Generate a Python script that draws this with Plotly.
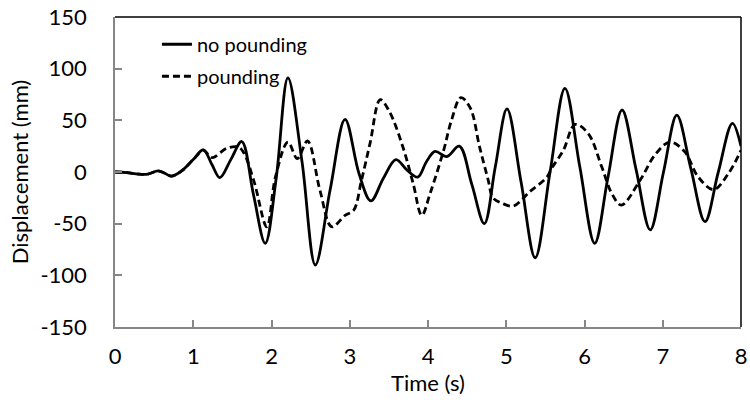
import plotly.graph_objects as go

# ---- data ----
t_no_pounding = [0.00, 0.15, 0.30, 0.42, 0.55, 0.63, 0.72, 0.85, 1.00, 1.13, 1.24, 1.34, 1.48, 1.62,
                 1.77, 1.92, 2.06, 2.21, 2.39, 2.56, 2.75, 2.94, 3.12, 3.27, 3.43, 3.59, 3.73, 3.87,
                 3.98, 4.09, 4.24, 4.40, 4.56, 4.72, 4.86, 5.01, 5.19, 5.37, 5.56, 5.75, 5.94, 6.13,
                 6.30, 6.48, 6.66, 6.84, 7.01, 7.18, 7.36, 7.54, 7.71, 7.89, 8.00]
v_no_pounding = [0, -0.5, -2, -2, 1, -1, -4, 1, 12, 21.5, 7, -5.5, 12, 29.5,
                 -22, -69, -6, 91, 10, -90, -17, 51, -2, -28, -6, 12, 2, -5,
                 10, 20, 15, 25, -12, -50, 5, 61, -10, -83, 0, 81, 5, -69,
                 -5, 60, 2, -56, 0, 55, 3, -48, 0, 47, 25]

t_pounding = [0.00, 0.15, 0.30, 0.42, 0.55, 0.63, 0.72, 0.85, 1.00, 1.13, 1.24, 1.43, 1.58, 1.65,
              1.78, 1.94, 2.05, 2.21, 2.33, 2.46, 2.62, 2.77, 2.94, 3.05, 3.15, 3.26, 3.39, 3.51,
              3.68, 3.81, 3.92, 4.03, 4.20, 4.30, 4.42, 4.54, 4.66, 4.77, 4.83, 4.94, 5.09, 5.30,
              5.52, 5.58, 5.73, 5.88, 6.05, 6.22, 6.35, 6.47, 6.71, 6.90, 7.09, 7.28, 7.45, 7.65,
              7.84, 8.00]
v_pounding = [0, -0.5, -2, -2, 1, -1, -4, 1, 12, 21, 14, 23, 24, 18,
              -10, -53, -5, 29, 13, 30, -18, -53, -42, -37, -8, 28, 70, 58,
              24, -11, -42, -20, 21, 50, 72, 62, 24, -8, -25, -30, -33, -19,
              -5, 3.6, 21, 46, 37, 5, -21, -32, -8, 16.5, 29, 19.7, -4.5, -17,
              -1.3, 21]

x_ticks = [0, 1, 2, 3, 4, 5, 6, 7, 8]
y_ticks = [-150, -100, -50, 0, 50, 100, 150]
y_tick_labels = ["-150", "-100", "-50", "0", "50", "100", "150"]

FONT = "Lato"
AXIS_GREY = "#868686"

fig = go.Figure()
fig.add_trace(go.Scatter(
    x=t_no_pounding, y=v_no_pounding, mode="lines", name="no pounding",
    line=dict(color="black", width=2.8, shape="spline", smoothing=1.0),
    legendgroup="a"))
fig.add_trace(go.Scatter(
    x=t_pounding, y=v_pounding, mode="lines", name="pounding",
    line=dict(color="black", width=2.8, dash="7px,4px", shape="spline", smoothing=1.0),
    legendgroup="b"))

fig.update_layout(
    width=750, height=403,
    margin=dict(l=115, r=9, t=17, b=76),
    paper_bgcolor="white", plot_bgcolor="white",
    font=dict(family=FONT, color="black", size=22),
    legend=dict(x=0.067, y=0.975, xanchor="left", yanchor="top",
                bgcolor="rgba(0,0,0,0)", font=dict(size=20, family=FONT),
                traceorder="grouped", tracegroupgap=3, itemwidth=30),
    xaxis=dict(range=[0, 8], tickvals=x_ticks, showgrid=False, zeroline=False,
               showline=True, linecolor=AXIS_GREY, linewidth=1.5, automargin=False,
               ticks="inside", ticklen=7, tickcolor=AXIS_GREY, tickwidth=1.5,
               ticklabelstandoff=9, tickfont=dict(size=22), ticklabeloverflow="allow",
               title=dict(text="Time (s)", standoff=0, font=dict(size=22))),
    yaxis=dict(range=[-150, 150], tickvals=y_ticks, ticktext=y_tick_labels,
               showgrid=False, zeroline=False, automargin=False,
               showline=True, linecolor=AXIS_GREY, linewidth=1.5,
               ticks="inside", ticklen=7, tickcolor=AXIS_GREY, tickwidth=1.5,
               ticklabelstandoff=22, tickfont=dict(size=22), ticklabeloverflow="allow",
               title=dict(text="Displacement (mm)", standoff=6, font=dict(size=22))),
    shapes=[
        dict(type="line", xref="paper", yref="paper", x0=0, x1=1, y0=1, y1=1,
             line=dict(color="black", width=1.5)),
        dict(type="line", xref="paper", yref="paper", x0=1, x1=1, y0=0, y1=1,
             line=dict(color="black", width=1.5)),
    ],
)

# remove the default 8px page margin so the 750x403 figure fills the window
fig.write_html("out.html",
               config={"displayModeBar": False},
               post_script="document.body.style.margin='0';document.body.style.overflow='hidden';")
